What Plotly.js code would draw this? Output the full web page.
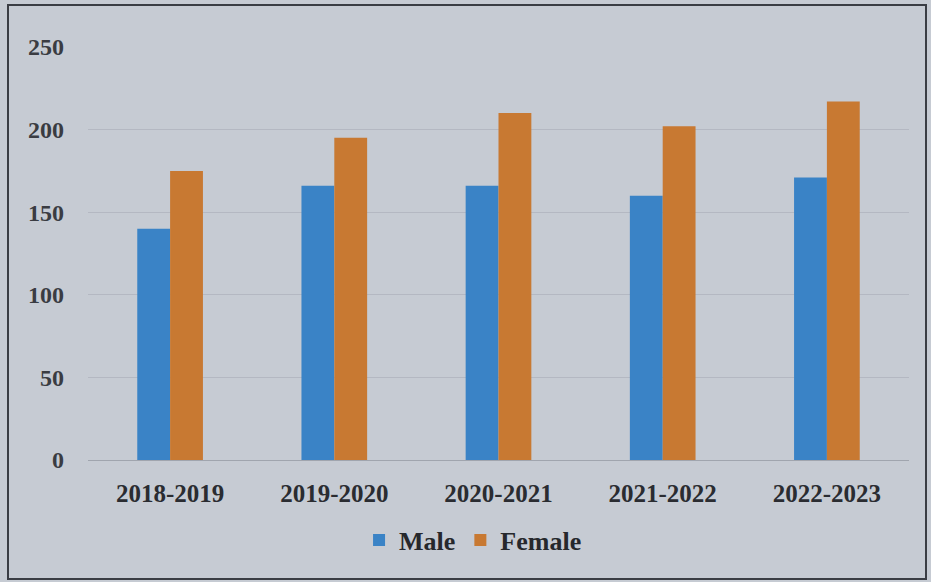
<!DOCTYPE html>
<html>
<head>
<meta charset="utf-8">
<script src="https://cdn.plot.ly/plotly-3.0.1.min.js"></script>
<style>
  html, body { margin: 0; padding: 0; background: #c6cbd3; }
  #chart { width: 931px; height: 582px; }
  #frame { position: absolute; left: 7px; top: 4px; width: 916px; height: 572px;
           border: 2px solid #3a3d44; pointer-events: none; }
</style>
</head>
<body>
<div id="chart"></div>
<div id="frame"></div>
<script>
const categories = ["2018-2019", "2019-2020", "2020-2021", "2021-2022", "2022-2023"];
const maleValues = [140, 166, 166, 160, 171];
const femaleValues = [175, 195, 210, 202, 217];
const yTicks = [0, 50, 100, 150, 200, 250];

const font = { family: "Liberation Serif, Times New Roman, serif", color: "#2a2c31" };

const traces = [
  { type: "bar", name: "<b>Male</b>", x: categories, y: maleValues,
    marker: { color: "#3a83c6" } },
  { type: "bar", name: "<b>Female</b>", x: categories, y: femaleValues,
    marker: { color: "#c87932" } }
];

const layout = {
  width: 931, height: 582,
  paper_bgcolor: "#c6cbd3", plot_bgcolor: "#c6cbd3",
  margin: { l: 88, r: 22, t: 47, b: 122 },
  barmode: "group", bargap: 0.6, bargroupgap: 0,
  font: font,
  showlegend: true,
  legend: { orientation: "h", x: 0.469, xanchor: "center", y: -0.194, yanchor: "middle",
            font: { family: font.family, size: 26, color: "#26282c" }, itemwidth: 30,
            bgcolor: "rgba(0,0,0,0)" },
  xaxis: {
    type: "category",
    tickfont: { family: font.family, size: 25, color: "#2a2c31", weight: "bold" },
    ticklabelstandoff: 16,
    showgrid: false, zeroline: false, showline: false, ticks: ""
  },
  yaxis: {
    range: [0, 250], tickvals: yTicks, ticktext: yTicks.map(v => "<b>" + v + "</b>"),
    tickfont: { family: font.family, size: 24, color: "#3a3c42" },
    ticklabelstandoff: 23,
    showgrid: true, gridcolor: "rgba(165,170,180,0.55)", gridwidth: 1,
    zeroline: true, zerolinecolor: "rgba(150,155,165,0.8)", zerolinewidth: 1,
    showline: false, ticks: ""
  }
};

Plotly.newPlot("chart", traces, layout, { displayModeBar: false, staticPlot: true });
</script>
</body>
</html>
